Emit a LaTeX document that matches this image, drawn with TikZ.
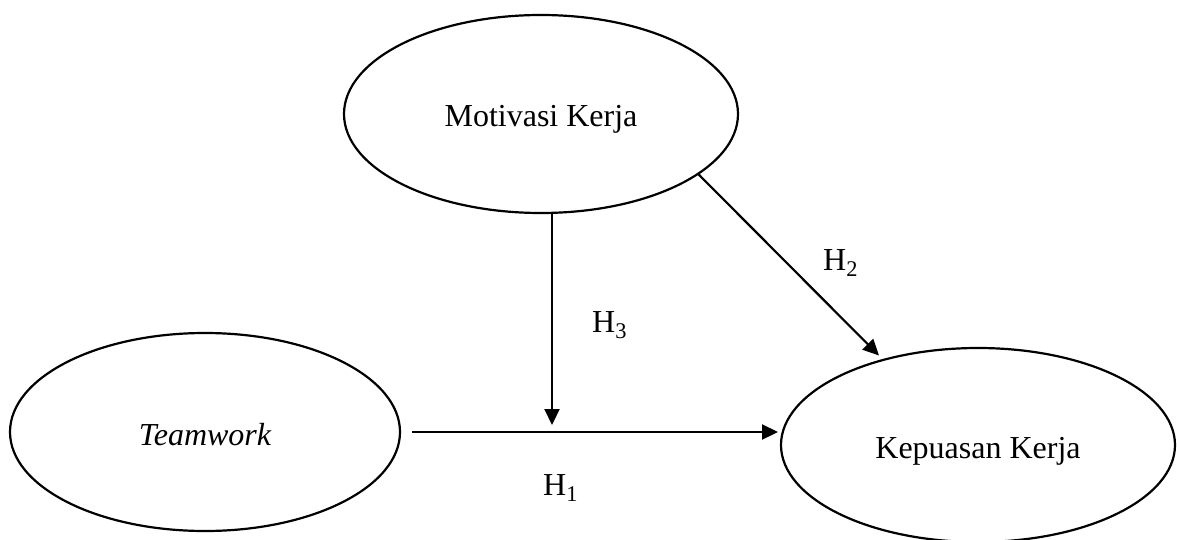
\documentclass[tikz,border=0pt]{standalone}
\usepackage{fontspec}
\setmainfont{Liberation Serif}
\usetikzlibrary{arrows.meta,shapes.geometric}
\begin{document}
\begin{tikzpicture}[x=1pt,y=-1pt,
  every node/.style={font=\fontsize{32}{38}\selectfont},
  var/.style={ellipse,draw,line width=2.2pt,inner sep=0pt,text height=30pt,text depth=4pt},
  link/.style={line width=2.2pt,-{Triangle[length=16pt,width=15pt]}},
  lab/.style={inner sep=0pt,anchor=base west}]
\useasboundingbox (0,0) rectangle (1177,540);
\node[var,minimum width=394pt,minimum height=198pt] (mot) at (541,114) {Motivasi Kerja};
\node[var,minimum width=390pt,minimum height=198pt] (tw) at (205,432) {\itshape Teamwork};
\node[var,minimum width=394pt,minimum height=194pt] (kep) at (978,445) {Kepuasan Kerja};
\coordinate (h1s) at (412,432);
\coordinate (h1e) at (778,432);
\coordinate (h3e) at (552,425);
\draw[link] (h1s) -- (h1e);
\draw[link] (h3e |- mot.south) -- (h3e);
\draw[link,shorten >=5pt] (mot.-21.7) -- (kep.138);
\node[lab] (h2) at (823,270) {H\textsubscript{2}};
\node[lab] (h3) at (592,332) {H\textsubscript{3}};
\node[lab] (h1) at (543,495) {H\textsubscript{1}};
\end{tikzpicture}
\end{document}
